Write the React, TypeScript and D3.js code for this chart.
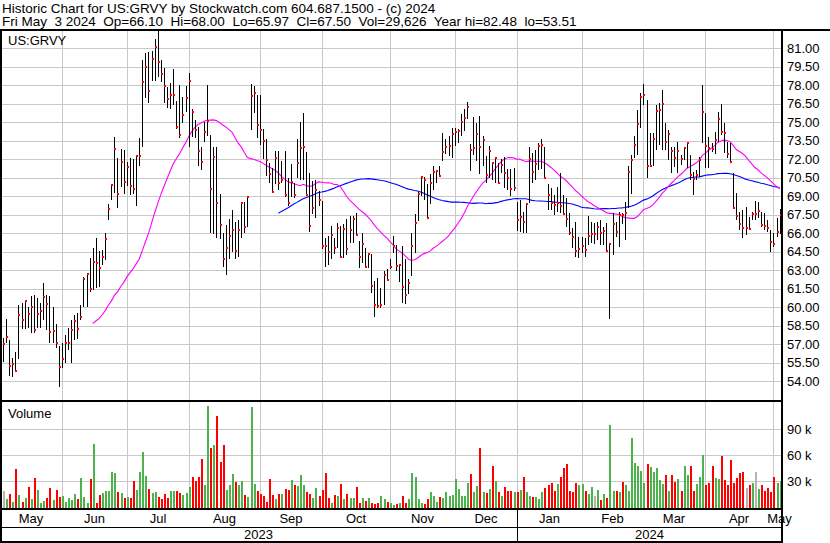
import React from "react";
import * as d3 from "d3";

// ---------- DATA ----------
const HOLIDAYS = [
  "2023-05-29", "2023-06-19", "2023-07-04", "2023-09-04", "2023-11-23",
  "2023-12-25", "2024-01-01", "2024-01-15", "2024-02-19", "2024-03-29",
];
const FIRST_DAY = new Date(2023, 4, 4);
const LAST_DAY = new Date(2024, 4, 3);

const highs = [
  57.49, 59.03, 57.35, 55.86, 56.38, 60.16, 60.32, 60.59, 60.0, 60.95, 61.0, 60.73, 60.32, 61.95, 61.0, 60.92, 60.05, 58.65, 56.86, 57.08, 57.76, 58.3, 58.97, 59.38, 59.51, 60.19, 62.43, 62.76, 63.97, 64.78, 65.59, 64.57, 64.65, 66.05, 68.35, 70.0, 73.84, 72.14, 72.86, 72.76, 71.8, 72.1,
  72.03, 72.35, 73.73, 80.05, 80.65, 80.73, 80.81, 81.76, 82.48, 80.05, 79.38, 77.89, 78.16, 79.32, 76.76, 78.03, 77.08, 77.97, 78.97, 76.05, 75.19, 74.65, 73.03, 75.05, 78.03, 73.97, 72.97, 73.03, 69.19, 66.0, 66.68, 67.16, 67.89, 66.89, 67.08, 68.49, 68.57, 69.03, 78.11, 77.95, 77.22, 77.22,
  74.42, 73.66, 71.72, 71.31, 72.66, 72.66, 71.85, 72.69, 70.5, 71.58, 70.1, 73.66, 75.04, 75.77, 72.61, 70.91, 70.23, 70.36, 69.42, 68.61, 65.64, 65.77, 66.58, 65.64, 66.85, 66.58, 66.72, 67.12, 67.39, 67.39, 67.66, 65.36, 66.04, 64.82, 64.36, 64.31, 62.12, 62.34, 61.58, 62.93, 63.07, 63.88,
  65.77, 65.09, 63.47, 64.96, 63.88, 62.31, 66.04, 67.53, 69.34, 70.58, 70.58, 69.96, 70.77, 71.45, 71.1, 71.45, 74.15, 73.61, 73.88, 74.55, 74.55, 74.42, 75.64, 76.04, 76.66, 73.2, 75.45, 74.96, 75.5, 73.88, 72.26, 73.07, 71.7, 72.1, 71.72, 71.99, 72.2, 71.18, 71.18, 71.31, 68.53, 68.74,
  67.76, 68.49, 73.03, 72.49, 72.76, 73.3, 73.62, 73.03, 70.0, 69.65, 69.11, 69.78, 70.86, 69.11, 68.84, 67.62, 66.41, 66.95, 65.73, 65.68, 65.59, 67.41, 66.9, 66.81, 66.95, 67.08, 66.54, 66.81, 65.19, 67.62, 66.95, 67.76, 67.62, 68.57, 71.46, 72.35, 73.89, 76.0, 77.35, 78.11, 76.81, 74.11,
  74.16, 76.41, 76.54, 77.62, 74.92, 74.38, 73.03, 73.03, 73.43, 72.35, 73.03, 73.43, 72.35, 71.0, 71.14, 72.22, 78.03, 75.73, 73.84, 73.3, 74.24, 75.86, 76.49, 74.92, 73.43, 73.3, 70.86, 69.24, 67.76, 67.89, 68.16, 67.35, 67.76, 68.65, 68.57, 67.76, 67.62, 67.08, 66.27, 66.0, 67.22, 68.0,
];
const lows = [
  55.59, 57.08, 54.43, 54.38, 54.86, 55.84, 58.22, 58.22, 58.3, 57.95, 57.95, 58.35, 58.3, 58.97, 58.16, 57.08, 57.08, 56.68, 53.51, 55.05, 55.46, 56.54, 55.46, 57.35, 57.41, 58.97, 60.05, 60.05, 61.27, 61.41, 61.54, 61.68, 63.43, 63.84, 67.08, 68.7, 69.24, 68.08, 69.78, 69.16, 69.8, 69.1,
  69.19, 68.24, 71.46, 72.97, 76.97, 76.59, 78.35, 78.38, 78.7, 78.3, 76.54, 76.14, 76.08, 76.41, 74.49, 73.7, 74.92, 75.81, 73.03, 73.84, 73.7, 71.46, 71.14, 73.43, 73.89, 66.05, 65.95, 65.59, 65.51, 63.3, 62.62, 63.89, 64.51, 63.95, 64.11, 65.59, 66.0, 66.54, 74.38, 75.78, 73.76, 73.16,
  72.04, 70.64, 70.04, 69.3, 69.96, 69.55, 70.1, 68.96, 68.2, 68.96, 68.9, 70.5, 70.36, 70.36, 69.07, 66.09, 67.53, 67.26, 68.2, 64.74, 63.28, 63.39, 63.93, 64.34, 64.82, 64.0, 64.01, 64.23, 65.23, 65.23, 65.82, 63.2, 63.61, 63.2, 63.2, 61.18, 59.2, 59.96, 59.96, 60.15, 62.12, 63.07,
  64.42, 62.93, 62.04, 60.36, 60.23, 61.04, 62.53, 64.42, 66.99, 69.01, 68.74, 67.12, 68.34, 69.55, 70.1, 70.64, 71.85, 72.39, 72.26, 72.12, 73.07, 73.34, 73.88, 74.28, 75.23, 71.04, 72.31, 71.85, 70.77, 71.45, 70.1, 70.5, 70.36, 70.04, 70.04, 70.85, 69.69, 69.55, 69.01, 69.42, 66.18, 66.09,
  66.05, 66.0, 68.43, 70.05, 70.32, 71.14, 71.19, 70.38, 67.89, 67.89, 67.49, 67.76, 67.62, 67.49, 66.54, 65.86, 64.78, 64.11, 63.97, 64.38, 64.11, 65.05, 65.2, 65.11, 65.46, 65.05, 65.05, 64.55, 59.03, 64.24, 65.73, 64.92, 66.73, 65.46, 68.03, 69.19, 72.08, 72.35, 74.51, 76.41, 70.46, 71.41,
  71.46, 72.76, 73.16, 72.76, 72.76, 71.95, 70.86, 71.35, 70.86, 71.54, 71.95, 71.27, 70.32, 69.11, 70.32, 70.59, 73.3, 71.27, 71.27, 72.62, 72.43, 73.43, 73.97, 72.49, 72.08, 71.68, 68.03, 67.08, 66.27, 65.59, 65.86, 66.27, 67.08, 67.08, 67.22, 66.54, 66.27, 66.14, 64.51, 64.92, 65.73, 65.97,
];
const closes = [
  57.0, 57.62, 55.24, 55.38, 54.86, 59.41, 59.0, 60.54, 59.46, 60.0, 58.16, 59.46, 59.73, 60.86, 60.24, 58.0, 58.05, 57.14, 55.19, 55.84, 57.08, 57.14, 58.19, 58.92, 58.22, 59.24, 62.27, 62.73, 61.46, 63.7, 63.62, 63.22, 64.11, 65.54, 68.0, 69.95, 72.86, 69.22, 71.78, 70.16, 71.4, 69.8,
  69.62, 72.27, 72.3, 78.3, 79.51, 77.57, 80.16, 81.14, 79.92, 78.95, 77.97, 76.89, 77.22, 77.25, 74.62, 73.97, 75.62, 77.0, 78.35, 75.86, 74.35, 72.68, 71.78, 74.22, 75.14, 69.59, 72.22, 68.49, 66.7, 63.92, 64.81, 65.78, 66.27, 64.59, 66.27, 68.49, 66.54, 68.97, 77.14, 77.41, 74.78, 74.41,
  73.47, 71.93, 70.8, 69.34, 72.09, 70.04, 70.34, 69.07, 68.47, 70.15, 69.07, 71.69, 72.91, 72.99, 69.12, 66.58, 68.04, 69.5, 68.69, 65.01, 64.96, 64.47, 65.85, 64.8, 66.45, 64.04, 66.31, 64.69, 66.23, 67.12, 65.85, 64.04, 65.12, 63.23, 64.31, 61.69, 60.15, 60.09, 60.15, 62.58, 62.18, 63.23,
  65.01, 63.34, 63.42, 61.64, 60.99, 61.99, 65.01, 66.85, 69.2, 70.55, 70.31, 67.23, 70.04, 70.96, 71.04, 70.64, 72.58, 72.99, 73.07, 74.07, 74.2, 74.31, 75.01, 75.31, 76.23, 72.72, 72.93, 74.04, 72.99, 73.55, 70.69, 72.66, 71.66, 72.07, 70.04, 71.5, 70.85, 70.5, 69.61, 69.65, 67.07, 67.34,
  66.95, 68.41, 72.03, 71.0, 71.62, 73.11, 73.15, 70.51, 69.14, 68.46, 68.32, 68.49, 68.19, 67.57, 67.19, 66.05, 65.73, 64.59, 64.76, 65.0, 64.65, 65.81, 65.92, 65.92, 66.49, 66.0, 66.22, 64.59, 65.14, 66.76, 66.11, 67.51, 67.49, 67.68, 70.95, 71.95, 73.19, 74.89, 77.08, 77.22, 71.46, 71.49,
  73.68, 75.92, 76.0, 76.46, 73.41, 74.03, 72.7, 72.11, 72.7, 72.05, 72.95, 73.35, 70.76, 70.43, 70.73, 71.95, 75.84, 73.05, 72.95, 72.86, 73.57, 75.3, 74.22, 74.16, 72.43, 71.81, 68.08, 67.41, 66.76, 66.46, 66.46, 66.38, 67.57, 67.57, 67.84, 66.7, 66.62, 66.46, 65.27, 65.11, 66.14, 67.5,
];

// volume in thousands of shares, per month
const volMay23 = [19, 9, 15, 6, 44, 14, 6, 10, 23, 9, 34, 20, 5, 7, 11, 22, 8, 20, 12];
const volJun23 = [13, 6, 10, 8, 15, 9, 34, 12, 5, 32, 73, 5, 14, 16, 18, 19, 41, 39, 17, 16, 10];
const volJul23 = [12, 10, 30, 20, 41, 64, 36, 21, 16, 17, 12, 9, 15, 10, 18, 18, 18, 16, 14, 16];
const volAug23 = [23, 35, 30, 35, 56, 25, 117, 68, 72, 106, 52, 72, 20, 26, 38, 29, 25, 30, 14, 12, 116, 27, 18];
const volSep23 = [15, 13, 6, 33, 14, 9, 15, 15, 21, 20, 31, 25, 24, 37, 25, 17, 15, 10, 22, 13];
const volOct23 = [20, 40, 11, 5, 14, 13, 27, 9, 15, 11, 10, 23, 5, 11, 7, 10, 5, 4, 5, 13, 9, 6];
const volNov23 = [5, 2, 3, 5, 13, 5, 9, 40, 35, 9, 5, 3, 9, 17, 13, 6, 12, 11, 17, 13, 14];
const volDec23 = [33, 21, 13, 13, 28, 38, 17, 24, 68, 17, 16, 21, 48, 30, 17, 13, 23, 19, 19, 17];
const volJan24 = [17, 20, 35, 17, 13, 12, 12, 9, 17, 22, 26, 28, 19, 27, 35, 45, 50, 19, 17, 28, 26];
const volFeb24 = [27, 19, 15, 23, 13, 20, 8, 15, 10, 95, 19, 19, 17, 29, 25, 18, 80, 51, 48, 42];
const volMar24 = [28, 50, 46, 41, 45, 31, 27, 37, 18, 37, 29, 32, 19, 48, 37, 48, 18, 27, 35, 60];
const volApr24 = [26, 28, 48, 34, 33, 59, 31, 26, 54, 28, 34, 40, 41, 22, 25, 28, 41, 21, 25, 19, 22, 17];
const volMay24 = [35, 28, 29.626];

const priceTicks = [54, 55.5, 57, 58.5, 60, 61.5, 63, 64.5, 66, 67.5, 69, 70.5, 72, 73.5, 75, 76.5, 78, 79.5, 81];
const volumeTicks = [30, 60, 90];
const MA_SHORT = 30;
const MA_LONG = 90;

const HEADER_1 = "Historic Chart for US:GRVY by Stockwatch.com 604.687.1500 - (c) 2024";
const HEADER_2 = "Fri May  3 2024  Op=66.10  Hi=68.00  Lo=65.97  Cl=67.50  Vol=29,626  Year hi=82.48  lo=53.51";
const SYMBOL = "US:GRVY";

// ---------- HELPERS ----------
function tradingDays(): Date[] {
  const hol = new Set(HOLIDAYS);
  const fmt = d3.timeFormat("%Y-%m-%d");
  return d3.timeDay
    .range(FIRST_DAY, d3.timeDay.offset(LAST_DAY, 1))
    .filter((d) => d.getDay() !== 0 && d.getDay() !== 6 && !hol.has(fmt(d)));
}
function sma(vals: number[], n: number): [number, number][] {
  const out: [number, number][] = [];
  for (let i = n - 1; i < vals.length; i++) {
    out.push([i, d3.mean(vals.slice(i - n + 1, i + 1)) as number]);
  }
  return out;
}

const FONT = "'Liberation Sans', Arial, Helvetica, sans-serif";

export default function App() {
  const dates = tradingDays();
  const volumes = [
    ...volMay23, ...volJun23, ...volJul23, ...volAug23, ...volSep23, ...volOct23,
    ...volNov23, ...volDec23, ...volJan24, ...volFeb24, ...volMar24, ...volApr24, ...volMay24,
  ];
  const N = closes.length;

  const panelL = 0, panelR = 782;
  const pTop = 31, pBot = 400;
  const vTop = 402, vBot = 508;
  const mBot = 527, yBot = 542;

  const x = d3.scaleLinear().domain([0, N - 1]).range([3, 779.6]);
  const y = d3.scaleLinear().domain([54, 81]).range([381.3, 48.3]);
  const yv = d3.scaleLinear().domain([0, 90]).range([507, 429.4]);
  const px = (i: number) => Math.round(x(i));

  // month starts
  const monthStarts: number[] = [];
  dates.forEach((d, i) => {
    if (i === 0 || d.getMonth() !== dates[i - 1].getMonth()) monthStarts.push(i);
  });
  const fmtMon = d3.timeFormat("%b");
  const months = monthStarts.map((s, k) => {
    const xs = k === 0 ? 0 : px(s);
    const xe = k < monthStarts.length - 1 ? px(monthStarts[k + 1]) : panelR;
    return { s, xs, xe, label: fmtMon(dates[s]), grid: k > 0 };
  });
  const yearSplit = monthStarts.find((s) => dates[s].getFullYear() === 2024 && dates[s].getMonth() === 0) as number;
  const xYear = px(yearSplit);
  const years = [
    { label: "2023", cx: (panelL + xYear) / 2 },
    { label: "2024", cx: (xYear + panelR) / 2 },
  ];

  const line = d3.line<[number, number]>().x((d) => x(d[0])).y((d) => y(d[1]));
  const maS = sma(closes, MA_SHORT);
  const maL = sma(closes, MA_LONG);

  const volColor = (i: number) => {
    if (i === 0) return "#b4b4b4";
    if (closes[i] > closes[i - 1]) return "#4cb24c";
    if (closes[i] < closes[i - 1]) return "#ff0000";
    return "#b4b4b4";
  };

  const gridColor = "#c8c8c8";
  const pre = { whiteSpace: "pre" as const };

  return (
    <svg
      width={830}
      height={543}
      style={{ position: "absolute", left: 0, top: 0, background: "#fff" }}
      fontFamily={FONT}
    >
      <defs>
        <clipPath id="pclip">
          <rect x={panelL + 2} y={pTop} width={panelR - panelL - 3} height={pBot - pTop} />
        </clipPath>
        <clipPath id="vclip">
          <rect x={panelL + 2} y={vTop} width={panelR - panelL - 3} height={vBot - vTop} />
        </clipPath>
      </defs>
      <rect x={0} y={0} width={830} height={543} fill="#fff" />

      {/* header */}
      <text x={2} y={13} fontSize={13.5} fill="#000" xmlSpace="preserve" style={pre}>{HEADER_1}</text>
      <text x={2} y={26} fontSize={13.5} fill="#000" xmlSpace="preserve" style={pre}>{HEADER_2}</text>

      {/* grid */}
      <g shapeRendering="crispEdges">
        {priceTicks.map((t) => (
          <line key={"pg" + t} x1={panelL} x2={panelR} y1={Math.round(y(t)) + 0.5} y2={Math.round(y(t)) + 0.5} stroke={gridColor} />
        ))}
        {volumeTicks.map((t) => (
          <line key={"vg" + t} x1={panelL} x2={panelR} y1={Math.round(yv(t)) + 0.5} y2={Math.round(yv(t)) + 0.5} stroke={gridColor} />
        ))}
        {months.filter((m) => m.grid).map((m) => (
          <line key={"mg" + m.s} x1={m.xs + 0.5} x2={m.xs + 0.5} y1={pTop} y2={vBot} stroke={gridColor} />
        ))}
      </g>

      {/* moving averages */}
      <g clipPath="url(#pclip)">
        <path d={line(maL) as string} fill="none" stroke="#0000ff" strokeWidth={1.1} />
        <path d={line(maS) as string} fill="none" stroke="#ff00ff" strokeWidth={1.1} />
      </g>

      {/* price bars */}
      <g clipPath="url(#pclip)" shapeRendering="crispEdges">
        {closes.map((c, i) => {
          const top = Math.round(y(highs[i]));
          const bot = Math.round(y(lows[i]));
          return <rect key={"b" + i} x={px(i)} y={top} width={1} height={Math.max(1, bot - top)} fill="#000" />;
        })}
        {closes.map((c, i) => (
          <rect key={"c" + i} x={px(i)} y={Math.round(y(c)) - 1} width={2} height={2} fill="#ff0000" />
        ))}
      </g>

      {/* volume bars */}
      <g clipPath="url(#vclip)" shapeRendering="crispEdges">
        {volumes.map((v, i) => (
          <rect key={"v" + i} x={px(i)} y={Math.round(yv(v))} width={2} height={vBot - Math.round(yv(v))} fill={volColor(i)} />
        ))}
      </g>

      {/* frames */}
      <g fill="#000" shapeRendering="crispEdges">
        <rect x={0} y={29} width={830} height={2} />
        <rect x={0} y={400} width={panelR} height={2} />
        <rect x={0} y={vBot} width={panelR} height={2} />
        <rect x={0} y={mBot} width={panelR} height={1} />
        <rect x={0} y={yBot - 1} width={panelR} height={2} />
        <rect x={0} y={29} width={2} height={yBot - 28} />
        <rect x={panelR - 1} y={29} width={2} height={yBot - 28} />
        <rect x={xYear} y={vBot} width={1} height={yBot - vBot} />
      </g>

      {/* labels */}
      <text x={8} y={45} fontSize={13} fill="#000">{SYMBOL}</text>
      <text x={8} y={418} fontSize={13} fill="#000">Volume</text>

      {priceTicks.map((t) => (
        <text key={"pt" + t} x={787} y={y(t)} dy="0.35em" fontSize={13} fill="#000">
          {d3.format(".2f")(t)}
        </text>
      ))}
      {volumeTicks.map((t) => (
        <text key={"vt" + t} x={787} y={yv(t)} dy="0.35em" fontSize={13} fill="#000">
          {t + " k"}
        </text>
      ))}
      {months.map((m) => (
        <text key={"ml" + m.s} x={(m.xs + m.xe) / 2 + (m.s === monthStarts[monthStarts.length - 1] ? 2 : 0)} y={523} fontSize={13} textAnchor="middle" fill="#000">
          {m.label}
        </text>
      ))}
      {years.map((yy) => (
        <text key={yy.label} x={yy.cx} y={539} fontSize={13} textAnchor="middle" fill="#000">
          {yy.label}
        </text>
      ))}
    </svg>
  );
}
